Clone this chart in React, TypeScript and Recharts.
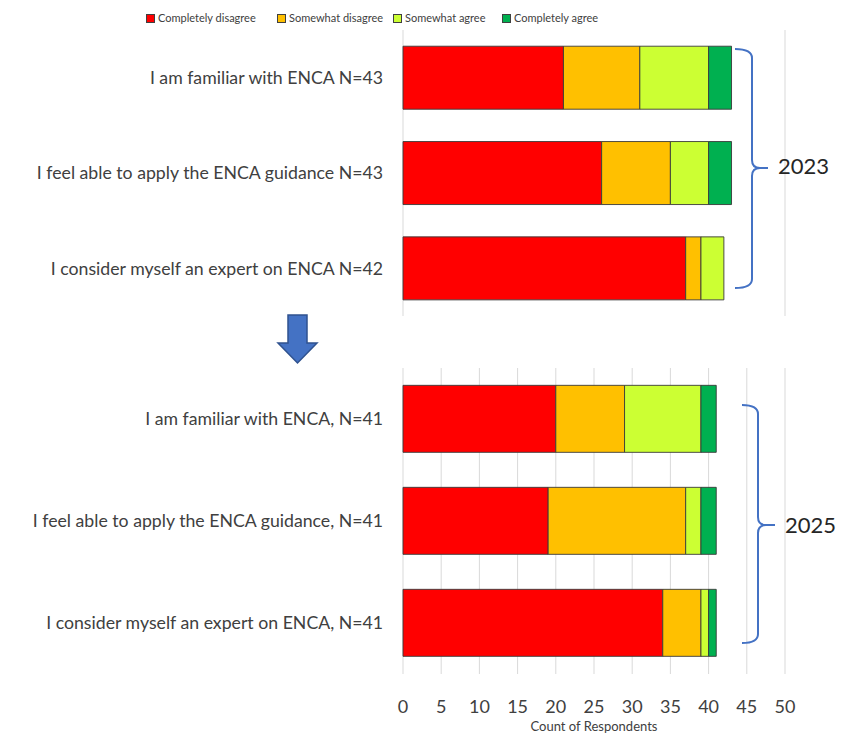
import React from 'react';
import { BarChart, Bar, XAxis, YAxis, CartesianGrid, Legend } from 'recharts';

const seriesNames = ['Completely disagree', 'Somewhat disagree', 'Somewhat agree', 'Completely agree'];
const seriesKeys = ['cd', 'sd', 'sa', 'ca'];
const seriesColors = ['#FF0000', '#FFC000', '#CCFF33', '#00B050'];

const categories2023 = [
  'I am familiar with ENCA N=43',
  'I feel able to apply the ENCA guidance N=43',
  'I consider myself an expert on ENCA N=42',
];
const completelyDisagree2023 = [21, 26, 37];
const somewhatDisagree2023 = [10, 9, 2];
const somewhatAgree2023 = [9, 5, 3];
const completelyAgree2023 = [3, 3, 0];

const categories2025 = [
  'I am familiar with ENCA, N=41',
  'I feel able to apply the ENCA guidance, N=41',
  'I consider myself an expert on ENCA, N=41',
];
const completelyDisagree2025 = [20, 19, 34];
const somewhatDisagree2025 = [9, 18, 5];
const somewhatAgree2025 = [10, 2, 1];
const completelyAgree2025 = [2, 2, 1];

const xTicks = [0, 5, 10, 15, 20, 25, 30, 35, 40, 45, 50];

const build = (cats: string[], a: number[], b: number[], c: number[], d: number[]) =>
  cats.map((name, i) => ({ name, cd: a[i], sd: b[i], sa: c[i], ca: d[i] }));

const data2023 = build(categories2023, completelyDisagree2023, somewhatDisagree2023, somewhatAgree2023, completelyAgree2023);
const data2025 = build(categories2025, completelyDisagree2025, somewhatDisagree2025, somewhatAgree2025, completelyAgree2025);

const FONT = 'Lato, "Liberation Sans", sans-serif';
const TEXT = '#404040';
const GRID = '#D9D9D9';

const legendWidths = [131, 116, 109, 140];

const LegendContent = () => (
  <div style={{ display: 'flex', fontFamily: FONT, fontSize: 11, color: TEXT, lineHeight: '12px' }}>
    {seriesNames.map((n, i) => (
      <div key={n} style={{ width: legendWidths[i], display: 'flex', alignItems: 'center' }}>
        <span
          style={{
            display: 'inline-block',
            width: 7,
            height: 7,
            background: seriesColors[i],
            border: '1px solid #404040',
            marginRight: 3,
          }}
        />
        <span>{n}</span>
      </div>
    ))}
  </div>
);

const renderBars = () =>
  seriesKeys.map((k, i) => (
    <Bar
      key={k}
      dataKey={k}
      name={seriesNames[i]}
      stackId="s"
      fill={seriesColors[i]}
      stroke="#3a3a3a"
      strokeWidth={0.9}
      isAnimationActive={false}
    />
  ));

export default function App() {
  return (
    <div style={{ position: 'absolute', left: 0, top: 0, width: 849, height: 733, background: '#fff', fontFamily: FONT }}>
      <div style={{ position: 'absolute', left: 0, top: 0 }}>
        <BarChart
          width={849}
          height={330}
          data={data2023}
          layout="vertical"
          barCategoryGap="17%"
          margin={{ top: 30, right: 64, bottom: 14, left: 0 }}
        >
          <CartesianGrid horizontal={false} stroke={GRID} />
          <XAxis
            type="number"
            domain={[0, 50]}
            ticks={xTicks}
            tick={false}
            axisLine={false}
            tickLine={false}
            height={0}
          />
          <YAxis
            type="category"
            dataKey="name"
            width={403}
            axisLine={false}
            tickLine={false}
            tickSize={0}
            tickMargin={20}
            tick={{ fill: TEXT, fontSize: 17.7, fontFamily: FONT }}
          />
          <Legend
            verticalAlign="middle"
            align="center"
            content={<LegendContent />}
            wrapperStyle={{ position: 'absolute', top: 12, left: 146, width: 600 }}
          />
          {renderBars()}
        </BarChart>
      </div>
      <div style={{ position: 'absolute', left: 0, top: 340 }}>
        <BarChart
          width={849}
          height={393}
          data={data2025}
          layout="vertical"
          barCategoryGap="17%"
          margin={{ top: 28, right: 64, bottom: 0, left: 0 }}
        >
          <CartesianGrid horizontal={false} stroke={GRID} />
          <XAxis
            type="number"
            domain={[0, 50]}
            ticks={xTicks}
            axisLine={false}
            tickLine={false}
            tickSize={0}
            tickMargin={26}
            height={59}
            tick={{ fill: TEXT, fontSize: 18, fontFamily: FONT }}
            label={{ value: 'Count of Respondents', position: 'insideBottom', offset: 2, fill: TEXT, fontSize: 13, fontFamily: FONT }}
          />
          <YAxis
            type="category"
            dataKey="name"
            width={403}
            axisLine={false}
            tickLine={false}
            tickSize={0}
            tickMargin={20}
            tick={{ fill: TEXT, fontSize: 17.7, fontFamily: FONT }}
          />
          {renderBars()}
        </BarChart>
      </div>
      <svg
        width={849}
        height={733}
        style={{ position: 'absolute', left: 0, top: 0, pointerEvents: 'none' }}
      >
        <path
          d="M735,49 Q752,49 752,58 L752,160 Q752,168 760,168 L768,168 M760,168 Q752,168 752,176 L752,279 Q752,288 735,288"
          fill="none"
          stroke="#4472C4"
          strokeWidth={2}
        />
        <text x={778} y={168} dominantBaseline="middle" fontSize={22} fill="#262626" fontFamily={FONT}>
          2023
        </text>
        <path
          d="M742,405 Q758,405 758,414 L758,517 Q758,525 766,525 L775,525 M766,525 Q758,525 758,533 L758,634 Q758,643 742,643"
          fill="none"
          stroke="#4472C4"
          strokeWidth={2}
        />
        <text x={785} y={527} dominantBaseline="middle" fontSize={22} fill="#262626" fontFamily={FONT}>
          2025
        </text>
        <polygon
          points="288,315 307,315 307,343 317,343 297.5,363 278,343 288,343"
          fill="#4472C4"
          stroke="#2F528F"
          strokeWidth={1.5}
        />
      </svg>
    </div>
  );
}
